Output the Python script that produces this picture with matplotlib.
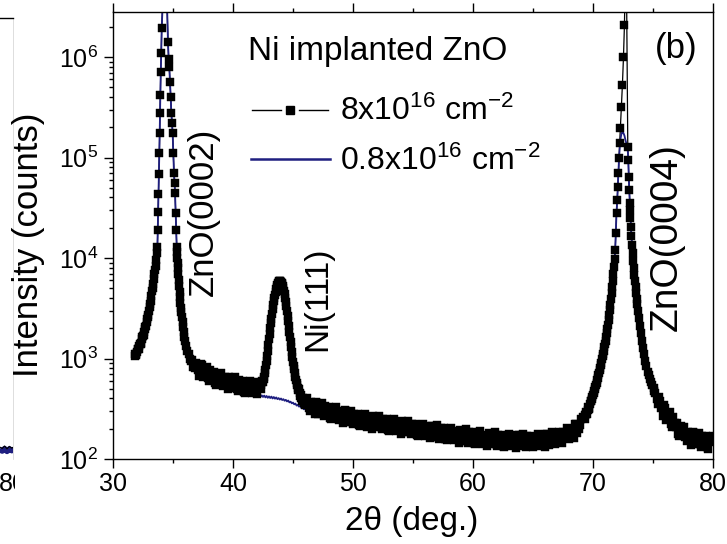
import numpy as np
import matplotlib
matplotlib.use("Agg")
import matplotlib.pyplot as plt
from matplotlib.ticker import MultipleLocator, LogLocator, NullFormatter
from matplotlib.patches import Rectangle

plt.rcParams['font.family'] = ['Liberation Sans', 'DejaVu Sans']
plt.rcParams['mathtext.fontset'] = 'custom'
plt.rcParams['mathtext.rm'] = 'Liberation Sans'
plt.rcParams['mathtext.it'] = 'Liberation Sans:italic'
plt.rcParams['mathtext.bf'] = 'Liberation Sans:bold'
plt.rcParams['mathtext.default'] = 'regular'

# ---------------- data (2theta in degrees, intensity in counts) ----------------
# left flank of ZnO(0002)
tt_a = [31.8, 31.9, 32.0, 32.1, 32.2, 32.3, 32.4, 32.5, 32.6, 32.7,
        32.8, 32.9, 33.0, 33.1, 33.2, 33.3, 33.4, 33.5, 33.6, 33.7,
        31.85, 31.95, 32.05, 32.15, 32.25, 32.35, 32.45, 32.55, 32.65, 32.75,
        32.85, 32.95, 33.05, 33.15, 33.25, 33.35, 33.45, 33.55, 33.65]
cnt_a = [1050, 1100, 1150, 1230, 1320, 1410, 1550, 1660, 1820, 2040,
         2290, 2570, 2950, 3470, 4170, 5010, 6170, 7590, 9550, 12900,
         1110, 1080, 1230, 1240, 1410, 1440, 1650, 1700, 1980, 2110,
         2480, 2700, 3280, 3720, 4680, 5450, 7000, 8350, 11200]

# ZnO(0002) peak and right flank
tt_b = [33.73, 33.76, 33.79, 33.83, 33.86, 33.89, 33.92, 33.95, 33.98, 34.02,
        34.06, 34.17, 34.33, 34.50, 34.58, 34.64, 34.69, 34.75, 34.81, 34.86,
        34.92, 34.97, 35.03, 35.08, 35.13, 35.17, 35.22, 35.27, 35.31, 35.36,
        35.42, 35.48, 35.55, 35.62, 35.70, 35.80, 35.90, 36.00,
        35.335, 35.39, 35.45, 35.515, 35.585, 35.66, 35.75, 35.85, 35.95, 36.1]
cnt_b = [19000, 28800, 43700, 69200, 110000, 174000, 275000, 417000, 708000, 1100000,
         1950000, 4000000, 10000000, 3500000, 1410000, 955000, 794000, 562000, 398000, 275000,
         219000, 174000, 110000, 70800, 56200, 44700, 28200, 19100, 12900, 10000,
         7940, 6030, 4570, 3550, 2880, 2290, 1820, 1510,
         11400, 8900, 6900, 5250, 4050, 3200, 2560, 2040, 1650, 1340]

# background between ZnO(0002) and Ni(111)
tt_c = [36.2, 36.4, 36.6, 36.8, 37.0, 37.2, 37.4, 37.6, 37.8, 38.0,
        38.2, 38.4, 38.6, 38.8, 39.0, 39.2, 39.4, 39.6, 39.8, 40.0,
        40.2, 40.4, 40.6, 40.8, 41.0, 41.2, 41.4, 41.6, 41.8, 42.0, 42.2,
        36.3, 36.5, 36.7, 36.9, 37.1, 37.3, 37.5, 37.7, 37.9, 38.1, 38.3, 38.5,
        38.7, 38.9, 39.1, 39.3, 39.5, 39.7, 39.9, 40.1, 40.3, 40.5,
        40.7, 40.9, 41.1, 41.3, 41.5, 41.7, 41.9, 42.1]
cnt_c = [1200, 1000, 960, 800, 867, 663, 853, 694, 831, 600,
         685, 734, 550, 656, 710, 528, 631, 493, 644, 534,
         649, 477, 552, 599, 456, 551, 603, 454, 548, 440, 576,
         1100, 940, 832, 910, 771, 876, 660, 749, 637, 763, 636, 570,
         695, 618, 564, 649, 567, 656, 504, 580, 501, 610,
         516, 468, 580, 522, 482, 560, 496, 581]

# Ni(111) peak
tt_d = [42.3, 42.4, 42.5, 42.6, 42.7, 42.8, 42.9, 43.0, 43.1, 43.2,
        43.3, 43.4, 43.5, 43.6, 43.7, 43.8, 43.9, 44.0, 44.1, 44.2,
        44.3, 44.4, 44.5, 44.6, 44.7, 44.8, 44.9, 45.0, 45.1, 45.2,
        45.3, 45.4, 45.5, 45.6, 45.7, 45.8, 45.9, 46.0, 46.1,
        42.35, 42.45, 42.55, 42.65, 42.75, 42.85, 42.95, 43.05, 43.15, 43.25,
        43.35, 43.45, 43.55, 43.65, 43.75, 43.85, 43.95, 44.05, 44.15, 44.25,
        44.35, 44.45, 44.55, 44.65, 44.75, 44.85, 44.95, 45.05, 45.15, 45.25,
        45.35, 45.45, 45.55, 45.65, 45.75, 45.85, 45.95, 46.05]
cnt_d = [500, 585, 590, 660, 775, 955, 1200, 1550, 2000, 2500,
         3100, 3700, 4250, 4900, 5400, 5750, 5900, 5750, 5500, 5000,
         4350, 3650, 2950, 2350, 1850, 1450, 1150, 930, 780, 660,
         575, 510, 500, 425, 405, 380, 395, 345, 375,
         540, 600, 620, 710, 860, 1070, 1360, 1760, 2240, 2780,
         3400, 3980, 4560, 5150, 5600, 5850, 5850, 5650, 5250, 4680,
         4000, 3300, 2640, 2090, 1640, 1290, 1030, 850, 710, 615,
         545, 490, 455, 430, 380, 400, 360, 380]

# background between Ni(111) and ZnO(0004)
tt_e = [46.2, 46.4, 46.6, 46.8, 47.0, 47.2, 47.4, 47.6, 47.8, 48.0,
        48.2, 48.4, 48.6, 48.8, 49.0, 49.2, 49.4, 49.6, 49.8, 50.0,
        50.2, 50.4, 50.6, 50.8, 51.0, 51.2, 51.4, 51.6, 51.8, 52.0,
        52.2, 52.4, 52.6, 52.8, 53.0, 53.2, 53.4, 53.6, 53.8, 54.0,
        54.2, 54.4, 54.6, 54.8, 55.0, 55.2, 55.4, 55.6, 55.8, 56.0,
        56.2, 56.4, 56.6, 56.8, 57.0, 57.2, 57.4, 57.6, 57.8, 58.0,
        58.2, 58.4, 58.6, 58.8, 59.0, 59.2, 59.4, 59.6, 59.8, 60.0,
        60.2, 60.4, 60.6, 60.8, 61.0, 61.2, 61.4, 61.6, 61.8, 62.0,
        62.2, 62.4, 62.6, 62.8, 63.0, 63.2, 63.4, 63.6, 63.8, 64.0,
        64.2, 64.4, 64.6, 64.8, 65.0, 65.2, 65.4, 65.6, 65.8, 66.0,
        66.2, 66.4, 66.6, 66.8, 67.0, 67.2, 67.4, 67.6, 67.8, 68.0,
        68.2, 68.4, 68.6, 68.8, 69.0]
cnt_e = [406, 302, 360, 279, 362, 299, 363, 265, 306, 330,
         250, 301, 328, 246, 294, 230, 302, 250, 303, 222,
         257, 279, 212, 255, 278, 209, 253, 199, 262, 219,
         267, 197, 228, 249, 189, 229, 251, 188, 227, 179,
         235, 196, 239, 176, 204, 222, 169, 205, 225, 169,
         204, 161, 212, 177, 216, 159, 186, 202, 154, 186,
         204, 153, 185, 145, 192, 161, 197, 145, 169, 185,
         141, 171, 188, 142, 171, 135, 179, 150, 184, 136,
         158, 174, 132, 162, 177, 135, 164, 129, 172, 144,
         178, 132, 155, 170, 131, 160, 177, 135, 165, 132,
         176, 149, 186, 140, 166, 186, 144, 181, 204, 158,
         199, 163, 225, 197, 252]
tt_e_mid = [46.3, 46.5, 46.7, 46.9, 47.1, 47.3, 47.5, 47.7, 47.9, 48.1,
            48.3, 48.5, 48.7, 48.9, 49.1, 49.3, 49.5, 49.7, 49.9, 50.1,
            50.3, 50.5, 50.7, 50.9, 51.1, 51.3, 51.5, 51.7, 51.9, 52.1,
            52.3, 52.5, 52.7, 52.9, 53.1, 53.3, 53.5, 53.7, 53.9, 54.1,
            54.3, 54.5, 54.7, 54.9, 55.1, 55.3, 55.5, 55.7, 55.9, 56.1,
            56.3, 56.5, 56.7, 56.9, 57.1, 57.3, 57.5, 57.7, 57.9, 58.1,
            58.3, 58.5, 58.7, 58.9, 59.1, 59.3, 59.5, 59.7, 59.9, 60.1,
            60.3, 60.5, 60.7, 60.9, 61.1, 61.3, 61.5, 61.7, 61.9, 62.1,
            62.3, 62.5, 62.7, 62.9, 63.1, 63.3, 63.5, 63.7, 63.9, 64.1,
            64.3, 64.5, 64.7, 64.9, 65.1, 65.3, 65.5, 65.7, 65.9, 66.1,
            66.3, 66.5, 66.7, 66.9, 67.1, 67.3, 67.5, 67.7, 67.9, 68.1,
            68.3, 68.5, 68.7, 68.9]
cnt_e_mid = [322, 371, 322, 369, 283, 324, 280, 338, 286, 258,
             318, 285, 261, 302, 265, 307, 236, 271, 234, 283,
             240, 217, 268, 241, 222, 258, 228, 266, 206, 238,
             207, 252, 214, 194, 241, 217, 200, 232, 205, 238,
             184, 213, 185, 225, 191, 173, 216, 194, 179, 208,
             184, 214, 166, 192, 167, 204, 174, 158, 196, 176,
             163, 189, 167, 194, 150, 175, 152, 186, 158, 144,
             179, 162, 150, 174, 154, 180, 141, 163, 142, 174,
             149, 136, 169, 153, 142, 167, 147, 173, 135, 158,
             138, 170, 146, 134, 167, 152, 142, 167, 149, 177,
             139, 164, 146, 181, 157, 147, 187, 174, 166, 199,
             183, 222, 181, 219]

# left flank of ZnO(0004)
tt_f = [69.2, 69.3, 69.4, 69.5, 69.6, 69.7, 69.8, 69.9, 70.0, 70.1,
        70.2, 70.3, 70.4, 70.5, 70.6, 70.7, 70.8, 70.9, 71.0, 71.1,
        71.2, 71.3, 71.4, 71.5, 71.6, 71.7, 71.8,
        69.25, 69.35, 69.45, 69.55, 69.65, 69.75, 69.85, 69.95, 70.05, 70.15,
        70.25, 70.35, 70.45, 70.55, 70.65, 70.75, 70.85, 70.95, 71.05, 71.15,
        71.25, 71.35, 71.45, 71.55, 71.65, 71.75]
cnt_f = [262, 248, 292, 283, 332, 325, 378, 398, 437, 479,
         525, 575, 646, 724, 813, 912, 1050, 1200, 1380, 1620,
         1950, 2400, 3020, 3890, 5130, 6920, 9770,
         258, 272, 280, 305, 318, 352, 380, 418, 455, 502,
         550, 610, 685, 770, 860, 980, 1120, 1290, 1500, 1780,
         2170, 2700, 3430, 4470, 5950, 8200]

# ZnO(0004) peak and right flank
tt_g = [71.85, 71.90, 71.96, 72.02, 72.07, 72.12, 72.17, 72.22, 72.28, 72.36,
        72.45, 72.54, 72.62, 72.70, 72.80, 72.90, 72.94, 72.98, 73.02, 73.06,
        73.12, 73.20, 73.30, 73.40, 73.50, 73.60, 73.70, 73.85, 74.00, 74.17,
        74.35, 74.55, 74.75, 74.95,
        73.09, 73.16, 73.25, 73.35, 73.45, 73.55, 73.65, 73.77, 73.92, 74.08,
        74.26, 74.45, 74.65, 74.85, 75.05, 75.1]
cnt_g = [12000, 17800, 28200, 38000, 51300, 70800, 100000, 138000, 195000, 316000,
         525000, 1000000, 2090000, 7900000, 4000000, 126000, 95500, 64600, 47900, 35500,
         25100, 16600, 11200, 7940, 5890, 4470, 3470, 2510, 1780, 1260,
         955, 741, 631, 550,
         30000, 20500, 13600, 9400, 6800, 5100, 3950, 2950, 2100, 1500,
         1100, 840, 680, 590, 510, 480]

# high-angle background
tt_h = [75.2, 75.4, 75.6, 75.8, 76.0, 76.2, 76.4, 76.6, 76.8, 77.0,
        77.2, 77.4, 77.6, 77.8, 78.0, 78.2, 78.4, 78.6, 78.8, 79.0,
        79.2, 79.4, 79.6, 79.8, 80.0,
        75.3, 75.5, 75.7, 75.9, 76.1, 76.3, 76.5, 76.7, 76.9, 77.1,
        77.3, 77.5, 77.7, 77.9, 78.1, 78.3, 78.5, 78.7, 78.9, 79.1,
        79.3, 79.5, 79.7, 79.9]
cnt_h = [457, 350, 380, 269, 325, 255, 295, 207, 230, 230,
         169, 197, 209, 151, 179, 139, 181, 149, 181, 133,
         154, 168, 127, 154, 169,
         397, 410, 325, 344, 247, 270, 223, 259, 206, 176,
         211, 184, 164, 184, 160, 184, 141, 162, 140, 170,
         144, 131, 162, 146]

# 0.8x10^16 cm^-2 sample: differs visibly only around Ni(111) and the ZnO(0004) top
tt_low_ni = [41.4, 41.5, 41.6, 41.7, 41.8, 41.9, 42.0, 42.1, 42.2, 42.3,
             42.4, 42.5, 42.6, 42.7, 42.8, 42.9, 43.0, 43.1, 43.2, 43.3,
             43.4, 43.5, 43.6, 43.7, 43.8, 43.9, 44.0, 44.1, 44.2, 44.3,
             44.4, 44.5, 44.6, 44.7, 44.8, 44.9, 45.0, 45.1, 45.2, 45.3,
             45.4, 45.5, 45.6, 45.7, 45.8, 45.9, 46.0, 46.1, 46.2, 46.3, 46.4]
cnt_low_ni = [455, 440, 452, 432, 446, 428, 440, 424, 436, 418,
              430, 414, 428, 410, 424, 406, 420, 404, 418, 400,
              414, 398, 410, 394, 404, 390, 400, 386, 394, 380,
              388, 374, 382, 366, 372, 358, 364, 350, 356, 340,
              346, 332, 338, 322, 328, 312, 318, 304, 310, 296, 300]
tt_low_0004 = [71.85, 71.90, 71.96, 72.02, 72.07, 72.12, 72.17, 72.22, 72.28, 72.36,
               72.45, 72.54, 72.62, 72.70, 72.80, 72.90, 72.94, 72.98, 73.02, 73.06]
cnt_low_0004 = [12000, 17800, 28200, 38000, 51300, 70800, 100000, 120000, 150000, 170000,
                180000, 175000, 165000, 150000, 135000, 115000, 95500, 64600, 47900, 35500]

# fragment of neighbouring panel (a) visible at the left edge
panel_a_tt = [78.9, 79.1, 79.3, 79.5, 79.7, 79.9, 80.1]
panel_a_cnt = [124, 120, 127, 119, 126, 121, 125]

label_high = r'8x10$^{16}$ cm$^{-2}$'
label_low = r'0.8x10$^{16}$ cm$^{-2}$'
legend_title = 'Ni implanted ZnO'
peak_labels = ['ZnO(0002)', 'Ni(111)', 'ZnO(0004)']
xlabel = '2\u03b8 (deg.)'
ylabel = 'Intensity (counts)'
xticks = [30, 40, 50, 60, 70, 80]

# ---------------- assemble ----------------
tt_high = np.array(tt_a + tt_b + tt_c + tt_d + tt_e + tt_e_mid + tt_f + tt_g + tt_h, float)
cnt_high = np.array(cnt_a + cnt_b + cnt_c + cnt_d + cnt_e + cnt_e_mid + cnt_f + cnt_g + cnt_h, float)
order = np.argsort(tt_high, kind='stable')
tt_high, cnt_high = tt_high[order], cnt_high[order]
keep = ((tt_high < 41.35) | (tt_high > 46.45)) & ((tt_high < 71.82) | (tt_high > 73.08))
tt_low = np.concatenate([tt_high[keep], tt_low_ni, tt_low_0004])
cnt_low = np.concatenate([cnt_high[keep], cnt_low_ni, cnt_low_0004])
order = np.argsort(tt_low, kind='stable')
tt_low, cnt_low = tt_low[order], cnt_low[order]

W, H = 727, 544
fig = plt.figure(figsize=(W / 100, H / 100), dpi=100)
NAVY = '#1f1f80'
MS = 6.0

def fx(px):
    return px / W

def fy(py):
    return 1 - py / H

# main axes: x 113..713 px, y 12..459 px
ax = fig.add_axes([fx(113), fy(459), (713 - 113) / W, (459 - 12) / H])
ax.set_xlim(30, 80)
ax.set_ylim(100, 10 ** (2 + 447 / 100.5))
ax.set_yscale('log')

ax.plot(tt_high, cnt_high, '-', color='black', lw=0.9, zorder=2)
ax.plot(tt_low, cnt_low, '-', color=NAVY, lw=1.3, zorder=2.5)
ax.plot(tt_high, cnt_high, 's', color='black', ms=MS, mec='black', mew=0.3, zorder=3)

ax.set_xticks(xticks)
ax.xaxis.set_minor_locator(MultipleLocator(5))
ax.yaxis.set_major_locator(LogLocator(base=10, numticks=20))
ax.yaxis.set_minor_locator(LogLocator(base=10, subs=np.arange(2, 10), numticks=20))
ax.yaxis.set_minor_formatter(NullFormatter())
ax.tick_params(which='both', direction='out', top=True, right=False,
               labeltop=False, width=1.0, labelsize=18)
ax.tick_params(which='major', length=6.5)
ax.tick_params(which='minor', length=3.2)
ax.tick_params(axis='x', pad=3)
ax.tick_params(axis='y', pad=4)
for s in ax.spines.values():
    s.set_linewidth(1.0)

ax.set_xlabel(xlabel, fontsize=24)
ax.set_ylabel(ylabel, fontsize=25)
ax.xaxis.set_label_coords((412 - 113) / 600, -(506 - 459) / 447)
ax.yaxis.set_label_coords(-(113 - 45) / 600, (459 - 245) / 447)

def afx(px):
    return (px - 113) / 600

def afy(py):
    return (459 - py) / 447

# legend, drawn by hand
ax.text(afx(248), afy(60), legend_title, transform=ax.transAxes, fontsize=24,
        ha='left', va='baseline')
ax.plot([afx(252), afx(281)], [afy(110), afy(110)], color='black', lw=1.0,
        transform=ax.transAxes, clip_on=False)
ax.plot([afx(299), afx(328)], [afy(110), afy(110)], color='black', lw=1.0,
        transform=ax.transAxes, clip_on=False)
ax.plot([afx(290)], [afy(110)], 's', color='black', ms=MS,
        transform=ax.transAxes, clip_on=False)
ax.text(afx(340), afy(120), label_high, transform=ax.transAxes, fontsize=23,
        ha='left', va='baseline')
ax.plot([afx(251), afx(330)], [afy(159), afy(159)], color=NAVY, lw=1.8,
        transform=ax.transAxes, clip_on=False)
ax.text(afx(340), afy(170), label_low, transform=ax.transAxes, fontsize=23,
        ha='left', va='baseline')

# peak labels
ax.text(afx(203), afy(212), peak_labels[0], transform=ax.transAxes, fontsize=25,
        rotation=90, ha='center', va='center')
ax.text(afx(318), afy(299), peak_labels[1], transform=ax.transAxes, fontsize=24,
        rotation=90, ha='center', va='center')
ax.text(afx(667), afy(237), peak_labels[2], transform=ax.transAxes, fontsize=28,
        rotation=90, ha='center', va='center')
ax.text(afx(676), afy(58), '(b)', transform=ax.transAxes, fontsize=25,
        ha='center', va='baseline')

# fragment of panel (a) at the left edge
ax0 = fig.add_axes([-0.3, fy(459), 0.3 + fx(13), (459 - 18) / H], zorder=-1)
ax0.set_yscale('log')
ax0.set_ylim(100, 10 ** (2 + 441 / 100.5))
ax0.set_xlim(80 - (0.3 * W + 13) / 12, 80)
ax0.plot(panel_a_tt, panel_a_cnt, '-', color=NAVY, lw=4, solid_capstyle='butt')
ax0.plot(panel_a_tt, [c * 1.06 for c in panel_a_cnt], '-', color='black', lw=0.8)
ax0.set_xticks([80])
ax0.set_yticks([])
ax0.yaxis.set_minor_locator(plt.NullLocator())
ax0.tick_params(axis='x', length=0, labelsize=18, pad=9.5)
ax0.spines['bottom'].set_visible(False)
ax0.spines['left'].set_visible(False)
ax0.spines['right'].set_color('#d0d0d0')
ax0.spines['right'].set_linewidth(0.5)
ax0.spines['top'].set_linewidth(1.0)
fig.patches.append(Rectangle((fx(15), fy(505)), fx(40), (505 - 462) / H,
                             transform=fig.transFigure, facecolor='white',
                             edgecolor='none', zorder=5))

fig.savefig('out.png', dpi=100)
